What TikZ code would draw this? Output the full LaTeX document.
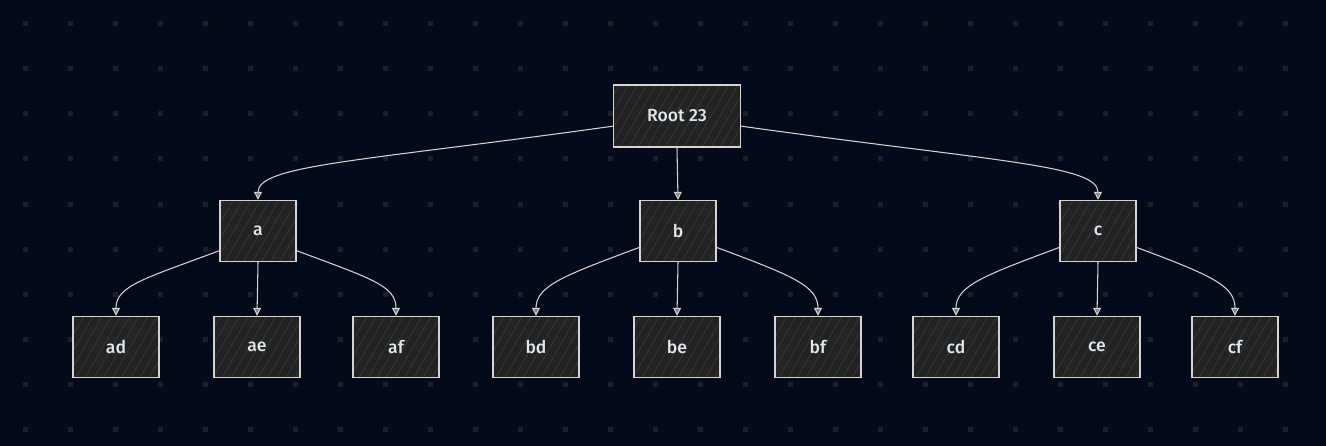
\documentclass[tikz,border=0pt]{standalone}
\usepackage{fontspec}
\setmainfont{Fira Sans}
\newfontfamily\etiquette{Fira Sans Medium}
\usetikzlibrary{arrows.meta,patterns.meta}
\definecolor{fond}{HTML}{050A1A}
\definecolor{point}{HTML}{1E2029}
\definecolor{remplir}{HTML}{232323}
\definecolor{hachure}{HTML}{363636}
\definecolor{trait}{HTML}{D4D4D4}
\definecolor{texte}{HTML}{E4E6EC}
\begin{document}
\begin{tikzpicture}[x=0.02cm,y=-0.02cm]
\tikzset{noeud/.style={draw=trait, line width=0.8pt, preaction={fill=remplir},
    preaction={pattern={Lines[angle=60,distance=4.5pt,line width=0.5pt]}, pattern color=hachure},
    text=texte, font=\etiquette\fontsize{10}{12}\selectfont, minimum height=1.22cm, inner sep=0pt},
  racine/.style={noeud, minimum width=2.54cm, minimum height=1.24cm},
  milieu/.style={noeud, minimum width=1.52cm},
  feuille/.style={noeud, minimum width=1.72cm},
  lien/.style={draw=trait, line width=0.6pt, -{Triangle[length=4.5pt,width=4.5pt,fill=gray]}}}
\fill[fond] (0,0) rectangle (1326,446);
\useasboundingbox (0,0) rectangle (1326,446);
\foreach \i in {0,...,28}
  \foreach \j in {0,...,9}
    \fill[point] (22.5+45*\i,21.5+45*\j) rectangle +(5,5);
\node[racine] (R) at (677,116) {Root 23};
\node[milieu] (A) at (258,231) {a};
\node[milieu] (B) at (678,231) {b};
\node[milieu] (C) at (1098,231) {c};
\node[feuille] (AD) at (116,347) {ad};
\node[feuille] (AE) at (257,347) {ae};
\node[feuille] (AF) at (396,347) {af};
\node[feuille] (BD) at (536,347) {bd};
\node[feuille] (BE) at (677,347) {be};
\node[feuille] (BF) at (818,347) {bf};
\node[feuille] (CD) at (956,347) {cd};
\node[feuille] (CE) at (1097,347) {ce};
\node[feuille] (CF) at (1235,347) {cf};
\draw[lien] (R.189) .. controls +(-250,35) and +(0,-35) .. (A.north);
\draw[lien] (R.south) -- (B.north);
\draw[lien] (R.351) .. controls +(250,35) and +(0,-35) .. (C.north);
\draw[lien] (A.207) .. controls +(-75,28) and +(0,-30) .. (AD.north);
\draw[lien] (A.south) -- (AE.north);
\draw[lien] (A.333) .. controls +(75,28) and +(0,-30) .. (AF.north);
\draw[lien] (B.203) .. controls +(-75,28) and +(0,-30) .. (BD.north);
\draw[lien] (B.south) -- (BE.north);
\draw[lien] (B.337) .. controls +(75,28) and +(0,-30) .. (BF.north);
\draw[lien] (C.203) .. controls +(-75,28) and +(0,-30) .. (CD.north);
\draw[lien] (C.south) -- (CE.north);
\draw[lien] (C.337) .. controls +(75,28) and +(0,-30) .. (CF.north);
\end{tikzpicture}
\end{document}
